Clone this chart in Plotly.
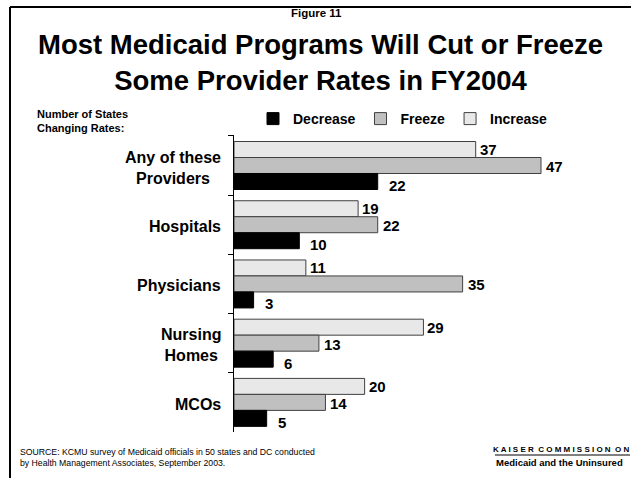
import plotly.graph_objects as go

# Provider categories, top to bottom
categories = ["Any of these<br>Providers", "Hospitals", "Physicians", "Nursing<br>Homes", "MCOs"]
cat_keys = ["Any", "Hospitals", "Physicians", "Nursing", "MCOs"]

# Number of states changing rates, FY2004
decrease = [22, 10, 3, 6, 5]
freeze = [47, 22, 35, 13, 14]
increase = [37, 19, 11, 29, 20]

series_names = ["Increase", "Freeze", "Decrease"]
series_values = [increase, freeze, decrease]
series_colors = ["#e8e8e8", "#c0c0c0", "#000000"]

W, H = 631, 478
ML, MR, MT, MB = 234, 41, 135, 46
XMAX = 54.5
FONT = "Arial, Liberation Sans, sans-serif"

fig = go.Figure()
for name, vals, col in zip(series_names, series_values, series_colors):
    fig.add_trace(go.Bar(
        name=f"<b>{name}</b>", y=cat_keys, x=vals, orientation="h",
        marker=dict(color=col, line=dict(color="#000000" if col == "#000000" else "#404040", width=1)),
        hoverinfo="skip",
    ))

# value labels next to each bar
label_offsets = {"Increase": (2, 16), "Freeze": (3, -1), "Decrease": (9, -20)}
for name, vals in zip(series_names, series_values):
    dx, dy = label_offsets[name]
    for key, v in zip(cat_keys, vals):
        fig.add_annotation(x=v, y=key, xref="x", yref="y", text=f"<b>{v}</b>",
                           showarrow=False, xanchor="left", yanchor="middle",
                           xshift=dx, yshift=dy,
                           font=dict(family=FONT, size=15, color="#000000"))

pw = W - ML - MR
ph = H - MT - MB
def px_to_paper_x(px):
    return (px - ML) / pw
def px_to_paper_y(py):
    return 1 - (py - MT) / ph

# category labels, centred lines
for key, lab in zip(cat_keys, categories):
    fig.add_annotation(x=px_to_paper_x(223), y=key, xref="paper", yref="y",
                       text=f"<b>{lab}</b>", showarrow=False, xanchor="right",
                       yanchor="middle", align="center", yshift=-2,
                       font=dict(family=FONT, size=16, color="#000000"))

texts = [
    dict(x=316, y=13, text="<b>Figure 11</b>", size=11.5, xa="center", fam=FONT),
    dict(x=320, y=62, text="<b>Most Medicaid Programs Will Cut or Freeze<br>Some Provider Rates in FY2004</b>", size=27.5, xa="center", fam=FONT),
    dict(x=35, y=121, text="<b>Number of States<br>Changing Rates:</b>", size=11, xa="left", fam=FONT),
    dict(x=18, y=457, text="SOURCE: KCMU survey of Medicaid officials in 50 states and DC conducted<br>by Health Management Associates, September 2003.", size=8.7, xa="left", fam=FONT),
    dict(x=561, y=449, text="<b>K A I S E R  C O M M I S S I O N  O N</b>", size=8, xa="center", fam=FONT),
    dict(x=559, y=462, text="<b>Medicaid and the Uninsured</b>", size=9.5, xa="center", fam=FONT),
]
for t in texts:
    fig.add_annotation(x=px_to_paper_x(t["x"]), y=px_to_paper_y(t["y"]), xref="paper", yref="paper",
                       text=t["text"], showarrow=False, xanchor=t["xa"], yanchor="middle",
                       align=t["xa"], font=dict(family=t["fam"], size=t["size"], color="#000000"))

# frame and logo rule
shapes = [
    dict(type="line", x0=px_to_paper_x(10), x1=px_to_paper_x(10), y0=px_to_paper_y(7), y1=px_to_paper_y(480),
         line=dict(color="#000000", width=2)),
    dict(type="line", x0=px_to_paper_x(10), x1=px_to_paper_x(635), y0=px_to_paper_y(7), y1=px_to_paper_y(7),
         line=dict(color="#000000", width=2)),
    dict(type="line", x0=px_to_paper_x(495), x1=px_to_paper_x(630), y0=px_to_paper_y(455), y1=px_to_paper_y(455),
         line=dict(color="#000000", width=1)),
]
for s in shapes:
    s.update(xref="paper", yref="paper", layer="above")
    fig.add_shape(**s)

fig.update_layout(
    width=W, height=H,
    margin=dict(l=ML, r=MR, t=MT, b=MB, pad=0),
    paper_bgcolor="#ffffff", plot_bgcolor="#ffffff",
    barmode="group", bargap=0.19, bargroupgap=0,
    showlegend=True,
    legend=dict(orientation="h", x=px_to_paper_x(253), y=px_to_paper_y(103), xanchor="left", yanchor="top",
                traceorder="reversed", font=dict(family=FONT, size=14, color="#000000"),
                itemwidth=30, bgcolor="rgba(0,0,0,0)"),
    font=dict(family=FONT, color="#000000"),
    xaxis=dict(range=[0, XMAX], visible=False, fixedrange=True),
    yaxis=dict(categoryorder="array", categoryarray=cat_keys, autorange="reversed",
               showticklabels=False, showline=True, linecolor="#000000", linewidth=1,
               ticks="outside", ticklen=5, tickcolor="#000000", tickson="boundaries",
               showgrid=False, zeroline=False, fixedrange=True),
)

fig.write_html("out.html")
